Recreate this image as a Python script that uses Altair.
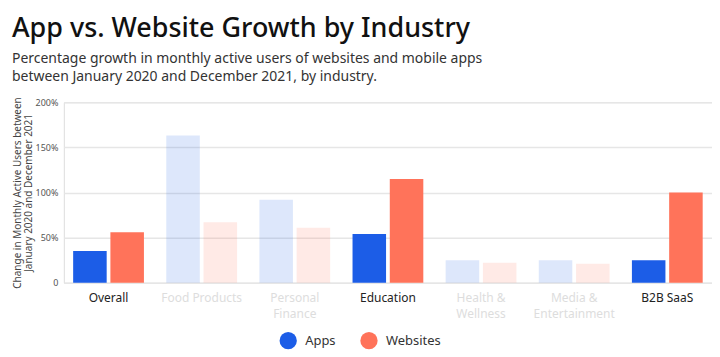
import altair as alt
import pandas as pd

categories = ["Overall", "Food Products", "Personal\nFinance", "Education",
              "Health &\nWellness", "Media &\nEntertainment", "B2B SaaS"]
highlighted = ["Overall", "Education", "B2B SaaS"]
apps = [35, 163, 92, 54, 25, 25, 25]
websites = [56, 67, 61, 115, 22, 21, 100]
series = ["Apps", "Websites"]
colors = ["#1c5de7", "#ff735a"]
y_ticks = [0, 50, 100, 150, 200]

rows = []
for c, a, w in zip(categories, apps, websites):
    hl = c in highlighted
    rows.append({"category": c, "series": "Apps", "value": a, "hl": hl})
    rows.append({"category": c, "series": "Websites", "value": w, "hl": hl})
df = pd.DataFrame(rows)

font = "Noto Sans"

chart = alt.Chart(df).mark_bar().encode(
    x=alt.X("category:N", sort=categories,
            scale=alt.Scale(paddingInner=0.24, paddingOuter=0.1),
            axis=alt.Axis(title=None, labelAngle=0, domain=False, ticks=False,
                          labelExpr="split(datum.label, '\\n')",
                          labelFontSize=12, labelPadding=10, labelFont=font,
                          labelLineHeight=16,
                          labelColor=alt.condition(
                              "indexof(['Overall','Education','B2B SaaS'], datum.label) >= 0",
                              alt.value("#222222"), alt.value("#dddddd")))),
    xOffset=alt.XOffset("series:N", sort=series,
                        scale=alt.Scale(paddingInner=0.1)),
    y=alt.Y("value:Q", scale=alt.Scale(domain=[0, 200]),
            axis=alt.Axis(title=["Change in Monthly Active Users between",
                                 "January 2020 and December 2021"],
                          titleFontSize=10, titleFontWeight="normal",
                          titleColor="#444444", titleFont=font,
                          titlePadding=2, titleLineHeight=11,
                          values=y_ticks, domain=False, ticks=False,
                          labelExpr="datum.value == 0 ? '0' : datum.value + '%'",
                          labelFontSize=9, labelColor="#555555", labelFont=font,
                          labelPadding=6,
                          gridColor="#e6e6e6", gridWidth=1.5)),
    color=alt.Color("series:N", sort=series,
                    scale=alt.Scale(domain=series, range=colors),
                    legend=alt.Legend(title=None, orient="none", direction="horizontal",
                                      legendX=216, legendY=230,
                                      symbolType="circle", symbolSize=300,
                                      symbolStrokeWidth=0, labelOffset=8,
                                      labelFontSize=13, labelFont=font,
                                      labelColor="#333333", columnPadding=24)),
    opacity=alt.condition("datum.hl", alt.value(1.0), alt.value(0.15)),
).properties(
    width=650, height=181,
    title=alt.Title(
        "App vs. Website Growth by Industry",
        subtitle=["Percentage growth in monthly active users of websites and mobile apps",
                  "between January 2020 and December 2021, by industry."],
        anchor="start", frame="group", font=font, fontSize=27, fontWeight=500,
        color="#111111", subtitleFont=font, subtitleFontSize=14,
        subtitleColor="#333333", subtitleLineHeight=18, subtitlePadding=9,
        offset=12, dx=-52),
).configure_view(stroke=None).configure(
    padding={"left": 4, "top": 6, "right": 0, "bottom": 0}
)

chart.save("out.html", embed_options={"renderer": "svg", "actions": False})
